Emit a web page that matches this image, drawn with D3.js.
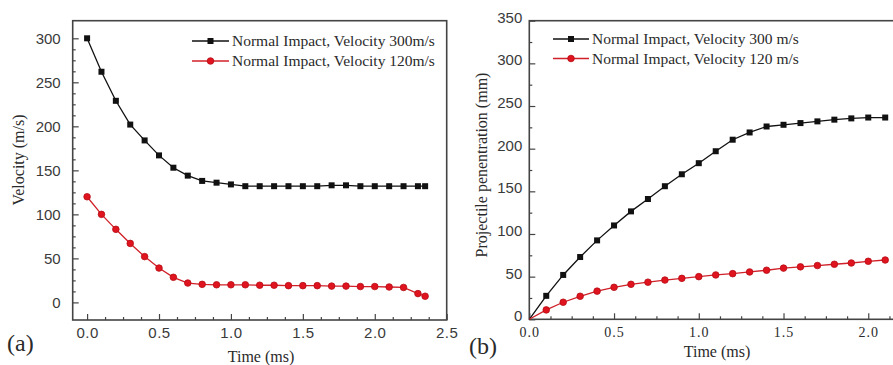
<!DOCTYPE html>
<html>
<head>
<meta charset="utf-8">
<script src="https://cdn.jsdelivr.net/npm/d3@7"></script>
<style>
  body { margin: 0; background: #fff; }
  svg { display: block; }
  .serif { font-family: "Liberation Serif", "Times New Roman", serif; fill: #2a2a2a; }
  .sans { font-family: "Liberation Sans", Arial, sans-serif; fill: #3a3a3a; }
</style>
</head>
<body>
<svg id="chart" width="893" height="365"></svg>
<script>
// panel (a): velocity vs time
const timeA = [0, 0.1, 0.2, 0.3, 0.4, 0.5, 0.6, 0.7, 0.8, 0.9, 1.0, 1.1, 1.2, 1.3, 1.4, 1.5, 1.6, 1.7, 1.8, 1.9, 2.0, 2.1, 2.2, 2.3, 2.35];
const velocity300 = [300, 262, 229, 202, 184, 167, 153, 144, 138, 136, 134, 132, 132, 132, 132, 132, 132, 133, 133, 132, 132, 132, 132, 132, 132];
const velocity120 = [120, 100, 83, 67, 52, 39, 28.5, 22, 20.5, 20, 20, 20, 19.5, 19.5, 19, 19, 19, 18.5, 18.5, 18, 18, 17.5, 17, 10, 7];

// panel (b): penetration vs time
const timeB = [0, 0.1, 0.2, 0.3, 0.4, 0.5, 0.6, 0.7, 0.8, 0.9, 1.0, 1.1, 1.2, 1.3, 1.4, 1.5, 1.6, 1.7, 1.8, 1.9, 2.0, 2.1];
const penetration300 = [0, 27.5, 52, 73, 92.5, 110, 126.5, 141, 156, 170, 183, 197, 210.5, 219, 226, 228, 230, 232, 234, 235.5, 236.5, 236.5];
const penetration120 = [0, 11, 20, 27, 33, 37.5, 41, 43.5, 46, 48, 50, 52, 53.5, 55.5, 57.5, 60, 61.5, 63, 64.5, 66, 68, 69.5];

const ticksA_x = [0, 0.5, 1.0, 1.5, 2.0, 2.5];
const ticksA_y = [0, 50, 100, 150, 200, 250, 300];
// 2.5 lies past the right edge of the window in panel (b)
const ticksB_x = [0, 0.5, 1.0, 1.5, 2.0];
const ticksB_y = [0, 50, 100, 150, 200, 250, 300, 350];

const legendA = ['Normal Impact, Velocity 300m/s', 'Normal Impact, Velocity 120m/s'];
const legendB = ['Normal Impact, Velocity 300 m/s', 'Normal Impact, Velocity 120 m/s'];

const black = '#111';
const red = '#e0141e';
const redEdge = '#b50d15';
const frameColor = '#444';

const svg = d3.select('#chart');

function minorTicks(major, n, last) {
  const m = last != null ? major.concat([last]) : major;
  const out = [];
  for (let i = 0; i < m.length - 1; i++) {
    const step = (m[i + 1] - m[i]) / (n + 1);
    for (let k = 1; k <= n; k++) out.push(m[i] + step * k);
  }
  return out;
}

function drawPanel(cfg) {
  const g = svg.append('g');
  const x = d3.scaleLinear().domain(cfg.xDomain).range(cfg.xRange);
  const y = d3.scaleLinear().domain(cfg.yDomain).range(cfg.yRange);

  const x0 = cfg.xRange[0], x1 = cfg.xRange[1];
  const y0 = cfg.yRange[0], y1 = cfg.yRange[1];

  // axes with inward ticks
  const gx = g.append('g').attr('transform', `translate(0,${y0})`)
    .call(d3.axisBottom(x).tickValues(cfg.xTicks).tickSize(-6).tickPadding(cfg.xPad)
      .tickFormat(d3.format('.1f')));
  g.append('g').attr('transform', `translate(0,${y0})`)
    .call(d3.axisBottom(x).tickValues(minorTicks(cfg.xTicks, 3, cfg.xMinorEnd)).tickSize(-3).tickFormat(''))
    .call(a => a.select('.domain').remove());

  const gy = g.append('g').attr('transform', `translate(${x0},0)`)
    .call(d3.axisLeft(y).tickValues(cfg.yTicks).tickSize(-6).tickPadding(cfg.yPad));
  g.append('g').attr('transform', `translate(${x0},0)`)
    .call(d3.axisLeft(y).tickValues(minorTicks(cfg.yTicks, cfg.yMinor)).tickSize(-3).tickFormat(''))
    .call(a => a.select('.domain').remove());

  g.selectAll('.tick line').attr('stroke', frameColor).attr('stroke-width', 1.2);
  gx.select('.domain').remove();
  gy.select('.domain').remove();

  gx.selectAll('text').attr('class', cfg.xFont).style('font-size', cfg.xFontSize)
    .attr('fill', null).attr('letter-spacing', cfg.xSpacing);
  gy.selectAll('text').attr('class', 'sans').style('font-size', '15px')
    .attr('fill', null).attr('dy', cfg.yDy);

  // frame
  g.append('rect')
    .attr('x', x0).attr('y', y1)
    .attr('width', x1 - x0).attr('height', y0 - y1)
    .attr('fill', 'none').attr('stroke', frameColor).attr('stroke-width', 1.6);

  const line = d3.line().x(d => x(d[0])).y(d => y(d[1]));

  cfg.series.forEach(s => {
    const pts = cfg.time.map((t, i) => [t, s.values[i]]);
    g.append('path').datum(pts)
      .attr('fill', 'none').attr('stroke', s.color).attr('stroke-width', 1.3)
      .attr('d', line);
    const mpts = pts.filter(p => !(cfg.skipOrigin && p[0] === 0));
    if (s.shape === 'square') {
      g.selectAll(null).data(mpts).join('rect')
        .attr('x', d => x(d[0]) - 3).attr('y', d => y(d[1]) - 3)
        .attr('width', 6).attr('height', 6)
        .attr('fill', black);
    } else {
      g.selectAll(null).data(mpts).join('circle')
        .attr('cx', d => x(d[0])).attr('cy', d => y(d[1])).attr('r', 3.3)
        .attr('fill', red).attr('stroke', redEdge).attr('stroke-width', 0.8);
    }
  });

  // legend
  cfg.series.forEach((s, i) => {
    const ly = cfg.legend.y[i];
    g.append('line')
      .attr('x1', cfg.legend.x1).attr('x2', cfg.legend.x2)
      .attr('y1', ly).attr('y2', ly)
      .attr('stroke', s.color).attr('stroke-width', 1.3);
    const mx = (cfg.legend.x1 + cfg.legend.x2) / 2;
    if (s.shape === 'square') {
      g.append('rect').attr('x', mx - 3).attr('y', ly - 3).attr('width', 6).attr('height', 6).attr('fill', black);
    } else {
      g.append('circle').attr('cx', mx).attr('cy', ly).attr('r', 3.3)
        .attr('fill', red).attr('stroke', redEdge).attr('stroke-width', 0.8);
    }
    g.append('text').attr('class', 'serif')
      .attr('x', cfg.legend.x2 + 3).attr('y', ly + 5)
      .style('font-size', '15.5px')
      .text(s.name);
  });

  // titles
  g.append('text').attr('class', 'serif')
    .attr('x', cfg.xTitle[0]).attr('y', cfg.xTitle[1])
    .attr('text-anchor', 'middle').style('font-size', '16px')
    .text('Time (ms)');
  g.append('text').attr('class', 'serif')
    .attr('transform', `translate(${cfg.yTitle[0]},${cfg.yTitle[1]}) rotate(-90)`)
    .attr('text-anchor', 'middle').style('font-size', '16px')
    .text(cfg.yLabel);
  g.append('text').attr('class', 'serif')
    .attr('x', cfg.tag[0]).attr('y', cfg.tag[1])
    .style('font-size', '24px').attr('fill', '#111')
    .text(cfg.tagText);
}

drawPanel({
  xDomain: [-0.1, 2.5], xRange: [72.7, 446.7],
  yDomain: [-20, 320], yRange: [320, 20.7],
  xTicks: ticksA_x, xMinorEnd: null, yTicks: ticksA_y, yMinor: 3,
  xPad: 7, yPad: 12, yDy: '0.32em',
  xFont: 'sans', xFontSize: '15px', xSpacing: 0.5,
  time: timeA,
  series: [
    {name: legendA[0], values: velocity300, color: black, shape: 'square'},
    {name: legendA[1], values: velocity120, color: '#d02028', shape: 'circle'}
  ],
  legend: {x1: 192, x2: 229, y: [41, 61]},
  xTitle: [261, 362], yTitle: [24, 160], yLabel: 'Velocity (m/s)',
  tag: [7, 351], tagText: '(a)',
  skipOrigin: false
});

drawPanel({
  xDomain: [0, 2.5], xRange: [529.3, 953],
  yDomain: [0, 350], yRange: [319.3, 20.7],
  xTicks: ticksB_x, xMinorEnd: 2.5, yTicks: ticksB_y, yMinor: 1,
  xPad: 8, yPad: 7, yDy: '0.1em',
  xFont: 'serif', xFontSize: '14px', xSpacing: 1,
  time: timeB,
  series: [
    {name: legendB[0], values: penetration300, color: black, shape: 'square'},
    {name: legendB[1], values: penetration120, color: '#d02028', shape: 'circle'}
  ],
  legend: {x1: 553, x2: 589, y: [39, 58.5]},
  xTitle: [717, 357], yTitle: [487, 165], yLabel: 'Projectile penentration (mm)',
  tag: [469, 354], tagText: '(b)',
  skipOrigin: true
});
</script>
</body>
</html>
